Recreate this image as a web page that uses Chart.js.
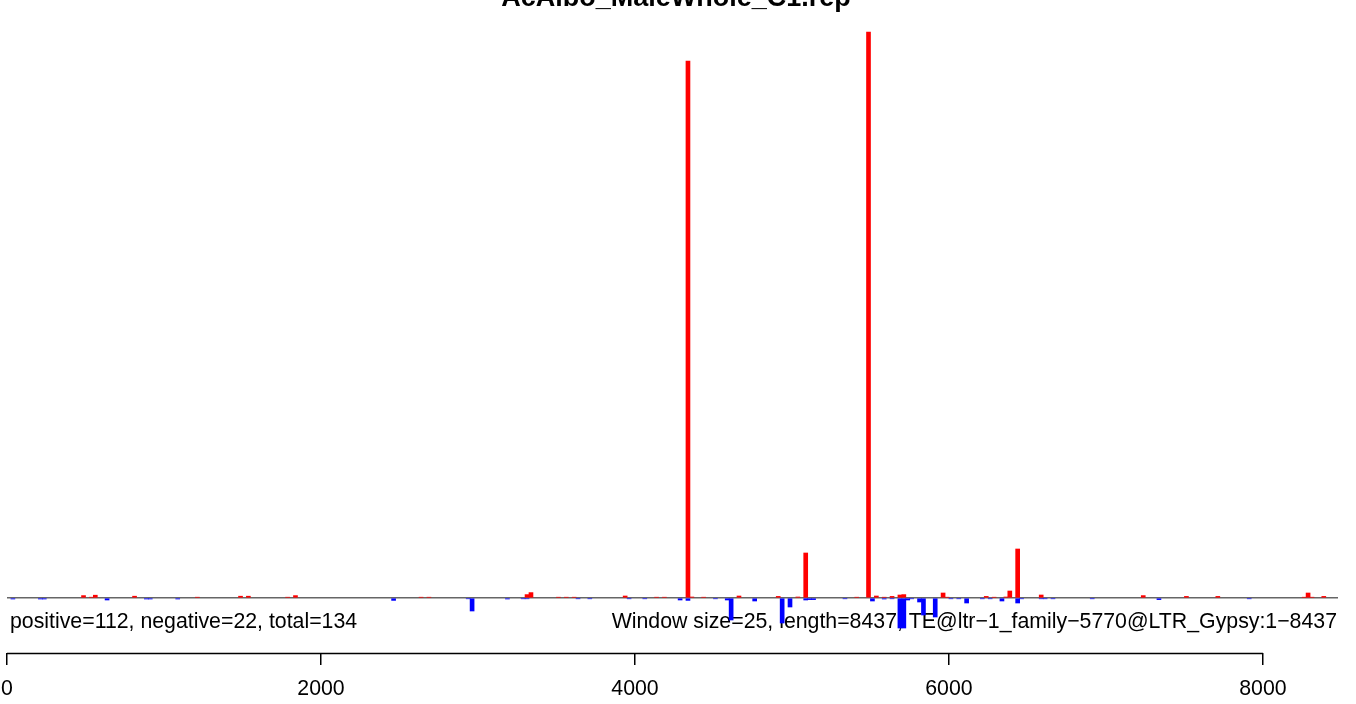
<!DOCTYPE html>
<html>
<head>
<meta charset="utf-8">
<script src="https://cdn.jsdelivr.net/npm/chart.js@4"></script>
<style>
  body { margin: 0; background: #fff; }
  canvas { display: block; }
</style>
</head>
<body>
<canvas id="chart" width="1356" height="704"></canvas>
<script>
// coverage of sense / antisense reads in 25 bp windows
var title = "AcAlbo_MaleWhole_C1.rep";
var leftNote = "positive=112, negative=22, total=134";
var rightNote = "Window size=25, length=8437, TE@ltr\u22121_family\u22125770@LTR_Gypsy:1\u22128437";
var windowSize = 25;
var seqLength = 8437;
var tickValues = [0, 2000, 4000, 6000, 8000];

// positive strand (red), window start positions and values
var posStarts = [475, 525, 550, 800, 1200, 1475, 1525, 1775, 1825, 2625, 2675,
  3300, 3325, 3500, 3550, 3600, 3925, 4125, 4175, 4325, 4350, 4425, 4650, 4900,
  5025, 5075, 5400, 5475, 5525, 5575, 5625, 5675, 5700, 5950, 5975, 6225, 6275,
  6350, 6375, 6425, 6575, 7225, 7500, 7700, 8250, 8275, 8300, 8375];
var posValues = [0.12, 0.04, 0.14, 0.09, 0.04, 0.09, 0.09, 0.04, 0.12, 0.04, 0.04,
  0.17, 0.27, 0.04, 0.04, 0.04, 0.10, 0.04, 0.04, 26.85, 0.05, 0.04, 0.10, 0.08,
  0.05, 2.25, 0.04, 28.3, 0.10, 0.04, 0.08, 0.15, 0.17, 0.25, 0.04, 0.08, 0.04,
  0.05, 0.35, 2.45, 0.15, 0.12, 0.08, 0.08, 0.04, 0.25, 0.04, 0.08];

// negative strand (blue)
var negStarts = [25, 200, 225, 625, 875, 900, 1075, 2450, 2925, 2950, 3175, 3275,
  3300, 3625, 3700, 3950, 4050, 4275, 4325, 4500, 4575, 4600, 4750, 4925, 4975,
  5075, 5100, 5125, 5325, 5500, 5575, 5625, 5675, 5700, 5725, 5750, 5800, 5825,
  5900, 6000, 6050, 6100, 6200, 6250, 6325, 6425, 6450, 6575, 6600, 6650, 6900,
  7325, 7900];
var negValues = [-0.05, -0.05, -0.05, -0.10, -0.05, -0.05, -0.05, -0.12, -0.04, -0.65,
  -0.05, -0.04, -0.04, -0.04, -0.04, -0.04, -0.04, -0.10, -0.12, -0.04, -0.10, -1.10,
  -0.15, -1.25, -0.45, -0.10, -0.08, -0.08, -0.04, -0.15, -0.05, -0.04, -1.50, -1.50,
  -0.10, -0.04, -0.20, -0.85, -0.95, -0.04, -0.04, -0.25, -0.04, -0.04, -0.15, -0.25,
  -0.04, -0.04, -0.04, -0.04, -0.04, -0.08, -0.04];

function toPoints(starts, values) {
  var pts = [];
  for (var i = 0; i < starts.length; i++) {
    pts.push({ x: starts[i] + windowSize / 2, y: values[i] });
  }
  return pts;
}

var FONT = "'Liberation Sans', Arial, Helvetica, sans-serif";

var textPlugin = {
  id: 'texts',
  beforeDatasetsDraw: function (chart) {
    var ctx = chart.ctx;
    ctx.save();
    ctx.fillStyle = '#000';
    ctx.font = '21.3px ' + FONT;
    ctx.textBaseline = 'alphabetic';
    ctx.textAlign = 'left';
    ctx.fillText(leftNote, 10, 628);
    ctx.textAlign = 'right';
    ctx.fillText(rightNote, 1337, 628);
    ctx.restore();
  },
  afterDraw: function (chart) {
    var ctx = chart.ctx;
    var xs = chart.scales.x;
    ctx.save();
    // axis line only between first and last tick, like R
    ctx.strokeStyle = '#000';
    ctx.lineWidth = 1.5;
    ctx.beginPath();
    ctx.moveTo(xs.getPixelForValue(tickValues[0]), xs.top + 0.5);
    ctx.lineTo(xs.getPixelForValue(tickValues[tickValues.length - 1]), xs.top + 0.5);
    ctx.stroke();
    // title
    ctx.fillStyle = '#000';
    ctx.font = 'bold 27px ' + FONT;
    ctx.textAlign = 'center';
    ctx.textBaseline = 'alphabetic';
    ctx.fillText(title, 676, 6);
    ctx.restore();
  }
};

new Chart(document.getElementById('chart'), {
  type: 'bar',
  data: {
    datasets: [
      {
        label: 'positive',
        data: toPoints(posStarts, posValues),
        backgroundColor: '#FF0000',
        borderWidth: 0,
        barThickness: 4,
        grouped: false
      },
      {
        label: 'negative',
        data: toPoints(negStarts, negValues),
        backgroundColor: '#0000FF',
        borderWidth: 0,
        barThickness: 4,
        grouped: false
      }
    ]
  },
  options: {
    responsive: false,
    animation: false,
    layout: { padding: { left: 7, right: 18, top: 8, bottom: 0 } },
    plugins: {
      legend: { display: false },
      title: { display: false },
      tooltip: { enabled: false }
    },
    scales: {
      x: {
        type: 'linear',
        position: 'bottom',
        min: 0,
        max: seqLength + 41,
        offset: false,
        border: { display: false },
        grid: {
          offset: false,
          drawOnChartArea: false,
          drawTicks: true,
          tickLength: 12,
          color: '#000',
          lineWidth: 1.5
        },
        ticks: {
          color: '#000',
          padding: 0,
          maxRotation: 0,
          autoSkip: false,
          font: { family: FONT, size: 21.3, lineHeight: 2.3 },
          callback: function (v) { return String(v); }
        },
        afterBuildTicks: function (scale) {
          scale.ticks = tickValues.map(function (v) { return { value: v }; });
        },
        afterFit: function (scale) {
          scale.height = 51;
        }
      },
      y: {
        min: -2.75,
        max: 29.5,
        border: { display: false },
        grid: {
          drawTicks: false,
          color: '#666',
          lineWidth: 1.5
        },
        ticks: { display: false },
        afterBuildTicks: function (scale) {
          scale.ticks = [{ value: 0 }];
        }
      }
    }
  },
  plugins: [textPlugin]
});
</script>
</body>
</html>
